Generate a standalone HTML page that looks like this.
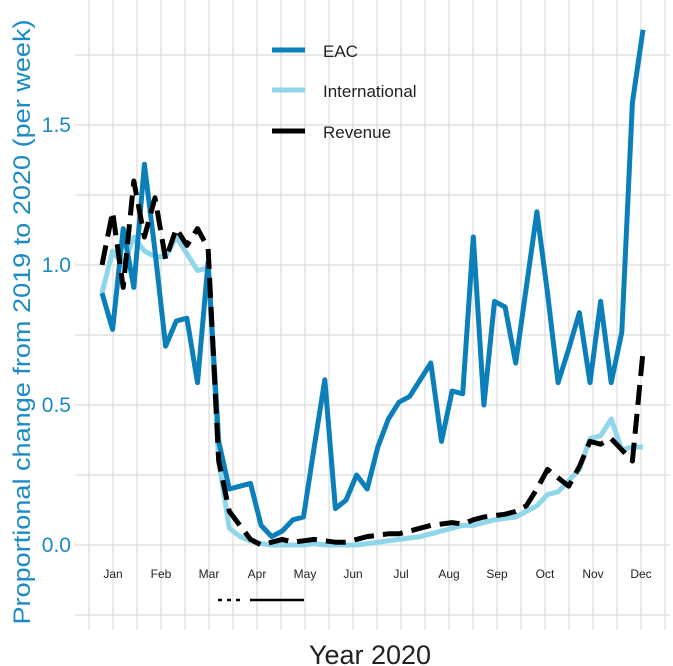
<!DOCTYPE html>
<html><head><meta charset="utf-8"><style>
body{margin:0;background:#fff}
svg{display:block;font-family:"Liberation Sans",sans-serif}
</style></head><body>
<svg id="chart" width="673" height="666">
<g id="grid"></g>
<g id="yaxis"></g>
<g id="xaxis"></g>
<g id="series"></g>
<text x="0" y="0" transform="translate(30,322) rotate(-90)" text-anchor="middle" font-size="24" textLength="605" lengthAdjust="spacingAndGlyphs" fill="#1a8bc4">Proportional change from 2019 to 2020 (per week)</text>
<text x="370" y="664" text-anchor="middle" font-size="27" fill="#222">Year 2020</text>
<g>
<g><line x1="272" y1="50" x2="305" y2="50" stroke="#0a7fba" stroke-width="5"/><text x="323" y="57" font-size="17" fill="#222">EAC</text></g>
<g><line x1="272" y1="90" x2="305" y2="90" stroke="#8fd6ea" stroke-width="5"/><text x="323" y="97" font-size="17" fill="#222">International</text></g>
<g><line x1="272" y1="131" x2="305" y2="131" stroke="#000" stroke-width="5"/><text x="323" y="138" font-size="17" fill="#222">Revenue</text></g>
</g>
<g>
<line x1="218" y1="600" x2="245" y2="600" stroke="#000" stroke-width="2.5" stroke-dasharray="4,5"/>
<line x1="250" y1="600" x2="304" y2="600" stroke="#000" stroke-width="2.5"/>
</g>
</svg>
<script>
const months=["Jan","Feb","Mar","Apr","May","Jun","Jul","Aug","Sep","Oct","Nov","Dec"];
const yTicks=[0,0.5,1.0,1.5];
const yTickLabels=["0.0","0.5","1.0","1.5"];
const eac=[0.9,0.77,1.13,0.92,1.36,1.05,0.71,0.80,0.81,0.58,1.01,0.37,0.2,0.21,0.22,0.07,0.03,0.05,0.09,0.1,0.35,0.59,0.13,0.16,0.25,0.2,0.35,0.45,0.51,0.53,0.59,0.65,0.37,0.55,0.54,1.1,0.5,0.87,0.85,0.65,0.92,1.19,0.9,0.58,0.7,0.83,0.58,0.87,0.58,0.76,1.58,1.84];
const international=[0.9,1.05,1.0,1.1,1.05,1.03,1.03,1.1,1.04,0.98,0.99,0.3,0.06,0.03,0.015,0.005,0,0,0,0,0.005,0,0,0,0,0.005,0.01,0.015,0.02,0.025,0.03,0.04,0.05,0.06,0.07,0.07,0.08,0.09,0.095,0.1,0.12,0.14,0.18,0.19,0.23,0.27,0.38,0.39,0.45,0.34,0.35,0.35];
const revenue=[1.0,1.19,0.92,1.3,1.1,1.24,1.02,1.13,1.07,1.13,1.06,0.3,0.12,0.07,0.02,0.0,0.01,0.02,0.01,0.015,0.02,0.015,0.01,0.01,0.02,0.03,0.035,0.04,0.04,0.05,0.06,0.07,0.075,0.08,0.075,0.09,0.1,0.105,0.11,0.12,0.14,0.2,0.27,0.24,0.21,0.28,0.37,0.36,0.38,0.34,0.3,0.69];
const NS="http://www.w3.org/2000/svg";
const yS=v=>545-v*280;
const xW=i=>102+i*(541/51);
const xM=m=>113+m*48;
function mk(tag,attrs,parent){const e=document.createElementNS(NS,tag);for(const k in attrs)e.setAttribute(k,attrs[k]);parent.appendChild(e);return e;}
const grid=document.getElementById('grid');
for(let v=-0.25;v<=1.76;v+=0.25){
  const l=mk('line',{x1:75,x2:670,y1:yS(v),y2:yS(v),stroke:'#dcdcdc','stroke-width':1.2},grid);
  
  
}
for(let m=-0.5;m<=11.6;m+=0.5){
  const l=mk('line',{x1:xM(m),x2:xM(m),y1:0,y2:630,stroke:'#dcdcdc','stroke-width':1.2},grid);
  
  
}
const ya=document.getElementById('yaxis');
yTicks.forEach((v,i)=>{
  const t=mk('text',{x:71,y:yS(v)+7,'text-anchor':'end','font-size':21,fill:'#1a8bc4'},ya);
  t.textContent=yTickLabels[i];
  
  
});
const xa=document.getElementById('xaxis');
months.forEach((m,i)=>{
  const t=mk('text',{x:xM(i),y:578,'text-anchor':'middle','font-size':12,fill:'#222'},xa);
  t.textContent=m;
  
  
});
const sg=document.getElementById('series');
function line(data,color,dash,name){
  const d=data.map((v,i)=>(i?'L':'M')+xW(i).toFixed(1)+','+yS(v).toFixed(1)).join('');
  const p=mk('path',{d:d,fill:'none',stroke:color,'stroke-width':5,'stroke-linejoin':'round'},sg);
  if(dash)p.setAttribute('stroke-dasharray',dash);
  
  
}
line(international,'#8fd6ea',null,'international-line');
line(eac,'#0a7fba',null,'eac-line');
line(revenue,'#000','20,9','revenue-line');
</script>
</body></html>
